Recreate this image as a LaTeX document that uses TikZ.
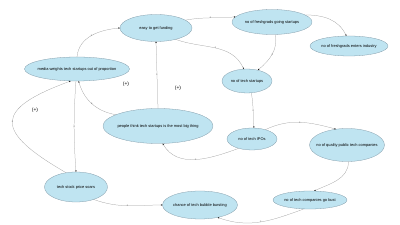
\documentclass[tikz,border=0pt]{standalone}
\usepackage{fontspec}
\setmainfont{Liberation Sans}
\usetikzlibrary{shapes.geometric, arrows.meta}
\definecolor{bollafill}{HTML}{BFE4F1}
\definecolor{bolladraw}{HTML}{7F98A6}
\definecolor{freccia}{HTML}{9A9A9A}

\begin{document}
\begin{tikzpicture}[x=0.05cm,y=0.05cm,
    bolla/.style={ellipse,draw=bolladraw,fill=bollafill,line width=0.4pt,inner sep=0pt,
        label={[font=\fontsize{5.6}{6}\selectfont]center:#1}},
    link/.style={draw=freccia,line width=0.35pt,-{Stealth[length=2.2pt,width=1.8pt,black]}},
    segno/.style={font=\fontsize{4}{4}\selectfont,inner sep=0pt,text=black!70},
    anello/.style={font=\fontsize{7}{8}\selectfont}]
        \useasboundingbox (0,0) rectangle (400,225);
        %disegno nodi
        \node[bolla={easy to get funding},minimum width=3.6cm,minimum height=1.35cm] (funding) at (156,197) {};
        \node[bolla={no of freshgrads going startups},minimum width=4cm,minimum height=1.25cm] (gradstart) at (272,203) {};
        \node[bolla={no of freshgrads enters industry},minimum width=3.9cm,minimum height=1cm] (gradind) at (349,179) {};
        \node[bolla={no of tech startups},minimum width=2.5cm,minimum height=1.2cm] (startups) at (247,144) {};
        \node[bolla={media weights tech startups out of proportion},minimum width=5.25cm,minimum height=1.2cm] (media) at (77,156) {};
        \node[bolla={people think tech startups is the most big thing},minimum width=5.5cm,minimum height=1.75cm] (people) at (158,99) {};
        \node[bolla={no of tech IPOs},minimum width=2.5cm,minimum height=1.1cm] (ipos) at (252,86) {};
        \node[bolla={no of quality public tech companies},minimum width=3.75cm,minimum height=1.65cm] (quality) at (347,80) {};
        \node[bolla={no of tech companies go bust},minimum width=3.7cm,minimum height=0.9cm] (bust) at (310,25) {};
        \node[bolla={chance of tech bubble bursting},minimum width=3.75cm,minimum height=1.4cm] (bubble) at (200,20) {};
        \node[bolla={tech stock price soars},minimum width=3.15cm,minimum height=1.5cm] (stock) at (76,38) {};
        %disegno frecce
        \draw[link] (media.north) to[out=85,in=185] node[segno]{+} (funding.west);
        \draw[link] (people.north) -- node[segno]{+} (funding.south);
        \draw[link] (funding.15) to[out=10,in=185] node[segno]{+} (gradstart.172);
        \draw[link] (funding.-30) to[out=-20,in=115] node[segno]{+} (startups.105);
        \draw[link] (gradstart.-75) to[out=-80,in=40] node[segno]{+} (startups.45);
        \draw[link] (gradstart.12) to[out=0,in=115] (gradind.105);
        \draw[link] (startups.-70) to[out=-80,in=95] node[segno]{+} (ipos.80);
        \draw[link] (ipos.215) to[out=200,in=-60] node[segno]{+} (people.-75);
        \draw[link] (ipos.35) to[out=25,in=165] node[segno]{+} (quality.125);
        \draw[link] (quality.-85) to[out=-90,in=25] (bust.65);
        \draw[link] (bust.-125) to[out=-160,in=-20] node[segno]{+} (bubble.-35);
        \draw[link] (stock.-35) to[out=-20,in=180] node[segno]{+} (bubble.west);
        \draw[link] (people.165) to[out=170,in=-75] node[segno]{+} (media.-82);
        \draw[link] (media.-95) to[bend right=4] node[segno]{+} (stock.north);
        \draw[link] (stock.125) to[out=150,in=200,looseness=2.3] node[segno]{+} (media.-118);
        %segni dei cicli
        \node[anello] (ciclo1) at (126,141) {(+)};
        \node[anello] (ciclo2) at (178,137) {(+)};
        \node[anello] (ciclo3) at (35,115) {(+)};
\end{tikzpicture}
\end{document}
